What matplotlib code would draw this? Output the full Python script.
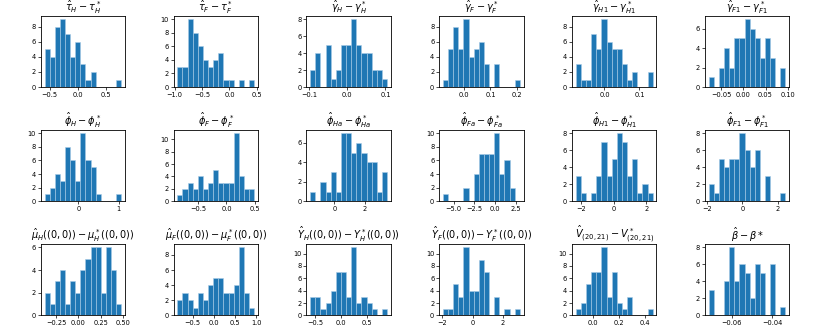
import numpy as np
import matplotlib
matplotlib.use("Agg")
import matplotlib.pyplot as plt
from matplotlib.ticker import MaxNLocator, MultipleLocator

titles = [
    r'$\hat{\tau}_H - \tau_H^*$', r'$\hat{\tau}_F - \tau_F^*$',
    r'$\hat{\gamma}_H - \gamma_H^*$', r'$\hat{\gamma}_F - \gamma_F^*$',
    r'$\hat{\gamma}_{H1} - \gamma_{H1}^*$', r'$\hat{\gamma}_{F1} - \gamma_{F1}^*$',
    r'$\hat{\phi}_H - \phi_H^*$', r'$\hat{\phi}_F - \phi_F^*$',
    r'$\hat{\phi}_{Ha} - \phi_{Ha}^*$', r'$\hat{\phi}_{Fa} - \phi_{Fa}^*$',
    r'$\hat{\phi}_{H1} - \phi_{H1}^*$', r'$\hat{\phi}_{F1} - \phi_{F1}^*$',
    r'$\hat{\mu}_H((0,0)) - \mu_H^*((0,0))$', r'$\hat{\mu}_F((0,0)) - \mu_F^*((0,0))$',
    r'$\hat{Y}_H((0,0)) - Y_H^*((0,0))$', r'$\hat{Y}_F((0,0)) - Y_F^*((0,0))$',
    r'$\hat{V}_{(20,21)} - V_{(20,21)}^*$', r'$\hat{\beta} - \beta *$',
]

# lowest / highest bin edge of each histogram (15 bins each)
lows = [-0.59, -0.95, -0.097, -0.077, -0.082, -0.078,
        -0.84, -0.87, -1.59, -6.3, -2.35, -1.9,
        -0.38, -0.86, -0.6, -1.95, -0.13, -0.0715]
highs = [0.78, 0.45, 0.104, 0.21, 0.138, 0.095,
         1.07, 0.49, 3.45, 3.0, 2.4, 2.42,
         0.48, 0.95, 0.88, 3.1, 0.46, -0.0335]

counts = [
    [5, 4, 8, 9, 7, 4, 6, 3, 1, 2, 0, 0, 0, 0, 1],
    [3, 3, 10, 8, 6, 4, 3, 4, 5, 1, 1, 0, 1, 0, 1],
    [2, 4, 0, 5, 1, 2, 5, 5, 8, 5, 4, 4, 2, 2, 1],
    [1, 5, 8, 5, 9, 4, 5, 6, 3, 0, 3, 0, 0, 0, 1],
    [3, 1, 1, 7, 5, 9, 6, 5, 5, 3, 1, 2, 0, 0, 2],
    [1, 0, 2, 4, 2, 5, 5, 7, 6, 5, 3, 5, 3, 0, 2],
    [1, 2, 4, 3, 8, 6, 3, 10, 6, 5, 1, 0, 0, 0, 1],
    [1, 2, 3, 2, 4, 2, 3, 5, 3, 3, 3, 11, 4, 2, 2],
    [1, 0, 2, 1, 3, 1, 7, 7, 5, 6, 5, 4, 4, 1, 3],
    [1, 0, 0, 0, 2, 0, 4, 7, 7, 7, 10, 4, 6, 2, 0],
    [3, 1, 0, 1, 3, 7, 3, 5, 8, 7, 3, 5, 1, 2, 1],
    [2, 1, 5, 4, 5, 5, 8, 6, 4, 6, 0, 3, 0, 0, 1],
    [2, 1, 3, 4, 1, 3, 2, 4, 5, 6, 6, 2, 6, 4, 1],
    [2, 3, 2, 1, 3, 2, 4, 5, 5, 3, 3, 4, 9, 3, 1],
    [3, 3, 1, 2, 4, 7, 7, 3, 11, 2, 3, 2, 1, 0, 1],
    [1, 1, 5, 3, 11, 4, 4, 9, 7, 0, 3, 0, 1, 0, 1],
    [1, 2, 5, 7, 7, 11, 3, 7, 2, 1, 3, 0, 0, 0, 1],
    [3, 0, 0, 4, 8, 4, 6, 5, 2, 6, 5, 0, 6, 0, 1],
]

plt.rcParams['axes.linewidth'] = 0.6
plt.rcParams['xtick.major.width'] = 0.5
plt.rcParams['ytick.major.width'] = 0.5
plt.rcParams['xtick.major.size'] = 2
plt.rcParams['ytick.major.size'] = 2
plt.rcParams['xtick.major.pad'] = 1.5
plt.rcParams['ytick.major.pad'] = 1.5

fig, axes = plt.subplots(3, 6, figsize=(8.3, 3.32), dpi=100)
fig.subplots_adjust(left=0.049, right=0.951, top=0.953, bottom=0.05,
                    wspace=0.572, hspace=0.597)

for i, ax in enumerate(axes.flat):
    edges = np.linspace(lows[i], highs[i], 16)
    centers = (edges[:-1] + edges[1:]) / 2
    ax.hist(centers, bins=edges, weights=counts[i], color='#1f77b4',
            edgecolor='#a8cbe6', linewidth=0.4)
    ax.set_title(titles[i], fontsize=7, pad=2)
    ax.tick_params(labelsize=4.8)
    ax.yaxis.set_major_locator(MaxNLocator(nbins=6, steps=[1, 2, 5, 10], integer=True))

# the phi_Fa panel carries a tick every 2.5
axes.flat[9].xaxis.set_major_locator(MultipleLocator(2.5))

fig.savefig("out.png", dpi=100)
